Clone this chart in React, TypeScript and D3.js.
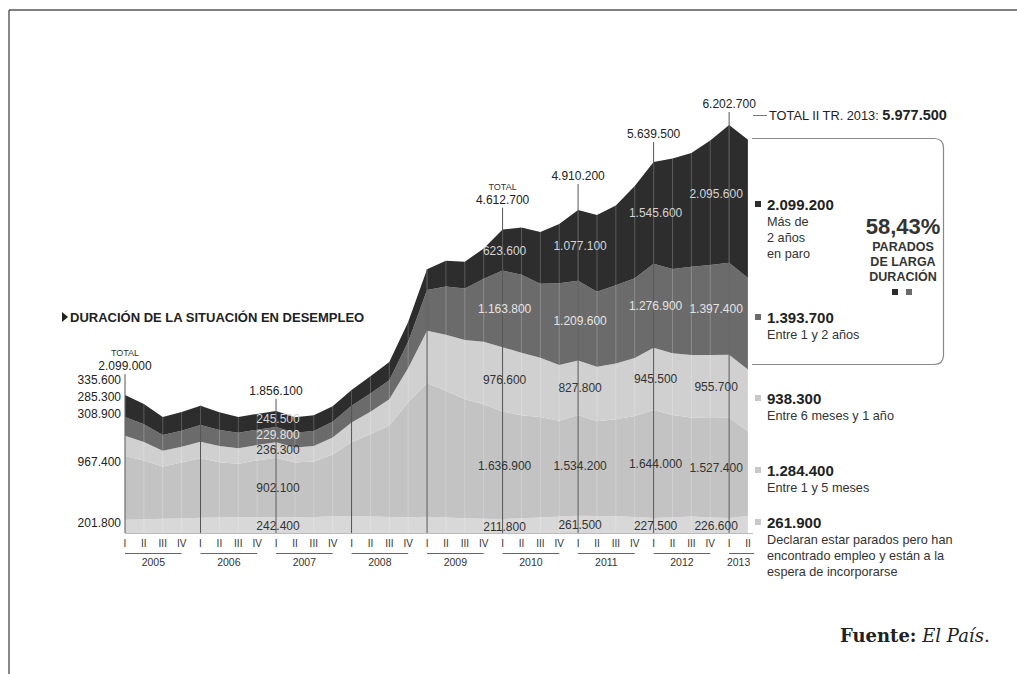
import React from "react";
import * as d3 from "d3";

// ---------- DATA (thousands of people) ----------
const years = ["2005", "2006", "2007", "2008", "2009", "2010", "2011", "2012", "2013"];
const quarterNames = ["I", "II", "III", "IV"];
const quarterLabels: string[] = [];
const quarterYears: string[] = [];
years.forEach((yr) => {
  const n = yr === "2013" ? 2 : 4;
  for (let q = 0; q < n; q++) {
    quarterLabels.push(quarterNames[q]);
    quarterYears.push(yr);
  }
});

// Declaran estar parados pero han encontrado empleo
const foundJob = [201.8, 205, 215, 220, 230, 235, 240, 240, 242.4, 240, 245, 250, 255, 250, 245, 240, 248, 235, 225, 215, 211.8, 225, 235, 250, 261.5, 260, 255, 245, 227.5, 240, 250, 235, 226.6, 261.9];
// Entre 1 y 5 meses
const oneToFive = [967.4, 897, 796, 851.3, 907.8, 842, 812, 863.6, 902.1, 830, 843.9, 942.6, 1126.2, 1253.5, 1388.8, 1747.9, 2027, 1928.5, 1807.3, 1741.5, 1636.9, 1564.5, 1527.7, 1455.6, 1534.2, 1437.7, 1473.3, 1533.6, 1644.0, 1552.1, 1506.1, 1512.4, 1527.4, 1284.4];
// Entre 6 meses y 1 año
const sixToTwelve = [308.9, 280, 240, 240, 250, 245, 235, 235, 236.3, 230, 235, 260, 300, 340, 400, 520, 800, 850, 900, 950, 976.6, 950, 900, 850, 827.8, 830, 850, 880, 945.5, 940, 950, 960, 955.7, 938.3];
// Entre 1 y 2 años
const oneToTwo = [285.3, 270, 238, 245, 253, 245, 238, 232, 229.8, 225, 228, 240, 253, 278, 290, 400, 618, 734, 786, 960, 1163.8, 1186, 1127, 1241, 1209.6, 1141, 1190, 1215, 1276.9, 1281, 1342, 1368, 1397.4, 1393.7];
// Más de 2 años
const overTwo = [335.6, 310, 276, 285, 295, 270, 240, 240, 245.5, 235, 240, 235, 240, 260, 275, 300, 318, 390, 405, 460, 623.6, 720, 785, 900, 1077.1, 1165, 1210, 1400, 1545.6, 1680, 1730, 1890, 2095.6, 2099.2];

const keys = ["foundJob", "oneToFive", "sixToTwelve", "oneToTwo", "overTwo"];
const seriesArrays: Record<string, number[]> = { foundJob, oneToFive, sixToTwelve, oneToTwo, overTwo };
const longTermShare = "58,43%";

// ---------- LAYOUT ----------
const W = 1017, H = 674;
const colors: Record<string, string> = {
  foundJob: "#d8d8d8",
  oneToFive: "#c3c3c3",
  sixToTwelve: "#d0d0d0",
  oneToTwo: "#6b6b6b",
  overTwo: "#2d2d2d",
};
const labelColors: Record<string, string> = {
  foundJob: "#333",
  oneToFive: "#333",
  sixToTwelve: "#333",
  oneToTwo: "#e4e4e4",
  overTwo: "#d4d4d4",
};

const esLocale = d3.formatLocale({ decimal: ",", thousands: ".", grouping: [3], currency: ["", ""] });
const fmt = (v: number) => esLocale.format(",.0f")(Math.round(v * 10) * 100);

const FONT = "'Liberation Sans', Arial, Helvetica, sans-serif";

export default function App() {
  const table = quarterLabels.map((q, i) => {
    const row: any = { i };
    keys.forEach((k) => (row[k] = seriesArrays[k][i]));
    return row;
  });
  const totals = table.map((r) => Math.round(keys.reduce((s, k) => s + r[k], 0) * 10) / 10);

  const x = d3.scaleLinear().domain([0, quarterLabels.length - 1]).range([125, 748]);
  const y = d3.scaleLinear().domain([0, d3.max(totals) as number]).range([533, 125]);

  const stacked = d3.stack<any>().keys(keys)(table);
  const area = d3
    .area<any>()
    .x((d) => x(d.data.i))
    .y0((d) => y(d[0]))
    .y1((d) => y(d[1]));

  const annotated = [
    { i: 0, off: 25, total: true, interior: false, dx: 0 },
    { i: 8, off: 16, total: false, interior: true, dx: 2 },
    { i: 20, off: 26, total: true, interior: true, dx: 2 },
    { i: 24, off: 30, total: false, interior: true, dx: 2 },
    { i: 28, off: 24, total: false, interior: true, dx: 2 },
    { i: 32, off: 17, total: false, interior: true, dx: -13 },
  ];
  const yearStarts = quarterLabels.map((q, i) => (q === "I" ? i : -1)).filter((i) => i >= 0);
  const annotatedIdx = annotated.map((a) => a.i);

  const leftLabelY: Record<string, number> = { overTwo: 384, oneToTwo: 401, sixToTwelve: 418, oneToFive: 466, foundJob: 527 };

  const last = quarterLabels.length - 1;
  const lastTotal = totals[last];

  const legend = [
    { key: "overTwo", y: 210, lines: ["Más de", "2 años", "en paro"] },
    { key: "oneToTwo", y: 323, lines: ["Entre 1 y 2 años"] },
    { key: "sixToTwelve", y: 404, lines: ["Entre 6 meses y 1 año"] },
    { key: "oneToFive", y: 476, lines: ["Entre 1 y 5 meses"] },
    { key: "foundJob", y: 528, lines: ["Declaran estar parados pero han", "encontrado empleo y están a la", "espera de incorporarse"] },
  ];

  return (
    <svg width={W} height={H} style={{ position: "absolute", left: 0, top: 0, background: "#fff" }} fontFamily={FONT}>
      <rect x={0} y={0} width={W} height={H} fill="#fff" />
      {/* frame */}
      <line x1={9} y1={10} x2={W} y2={10} stroke="#555" strokeWidth={1.4} />
      <line x1={9} y1={10} x2={9} y2={H} stroke="#555" strokeWidth={1.4} />

      {/* title */}
      <path d="M62,312 L68,317 L62,322 Z" fill="#222" />
      <text x={70} y={322} fontSize={13} fontWeight="bold" fill="#222">
        DURACIÓN DE LA SITUACIÓN EN DESEMPLEO
      </text>

      {/* stacked areas */}
      {stacked.map((s) => (
        <path key={s.key} d={area(s) as string} fill={colors[s.key]} />
      ))}

      {/* faint quarter lines */}
      {table.map((r) => (
        <line key={"q" + r.i} x1={x(r.i)} x2={x(r.i)} y1={y(totals[r.i])} y2={533} stroke="#fff" strokeOpacity={0.22} strokeWidth={1} />
      ))}

      {/* baseline */}
      <line x1={125} x2={753} y1={533.5} y2={533.5} stroke="#bbb" strokeWidth={1} />

      {/* year-start lines */}
      {yearStarts
        .filter((i) => !annotatedIdx.includes(i))
        .map((i) => (
          <line key={"ys" + i} x1={x(i)} x2={x(i)} y1={y(totals[i])} y2={533} stroke="#555" strokeWidth={1} />
        ))}

      {/* annotations */}
      {annotated.map((a) => {
        const top = y(totals[a.i]);
        const base = top - a.off;
        return (
          <g key={"a" + a.i}>
            <line x1={x(a.i)} x2={x(a.i)} y1={base + 4} y2={533} stroke="#555" strokeWidth={1} />
            {a.total && (
              <text x={x(a.i)} y={base - 14} fontSize={9} textAnchor="middle" fill="#333">
                TOTAL
              </text>
            )}
            <text x={x(a.i)} y={base} fontSize={12} textAnchor="middle" fill="#222">
              {fmt(totals[a.i])}
            </text>
            {a.interior &&
              stacked.map((s) => {
                const d = s[a.i];
                const mid = (y(d[0]) + y(d[1])) / 2;
                return (
                  <text key={s.key} x={x(a.i) + a.dx} y={mid + 4.5} fontSize={12} textAnchor="middle" fill={labelColors[s.key]}>
                    {fmt(d[1] - d[0])}
                  </text>
                );
              })}
          </g>
        );
      })}

      {/* left labels for first quarter */}
      {keys.map((k) => (
        <text key={"l" + k} x={121} y={leftLabelY[k]} fontSize={12} textAnchor="end" fill="#222">
          {fmt(seriesArrays[k][0])}
        </text>
      ))}

      {/* quarter labels */}
      {quarterLabels.map((q, i) => (
        <text key={"ql" + i} x={x(i)} y={547} fontSize={10} textAnchor="middle" fill="#333">
          {q}
        </text>
      ))}
      {years.map((yr) => {
        const idx = quarterYears.map((v, i) => (v === yr ? i : -1)).filter((i) => i >= 0);
        const x0 = x(idx[0]);
        const x1 = x(idx[idx.length - 1]);
        return (
          <g key={"y" + yr}>
            <line x1={x0} x2={x1 + (yr === "2013" ? 6 : 0)} y1={553.5} y2={553.5} stroke="#666" strokeWidth={1} />
            <text x={(x0 + x1) / 2} y={566} fontSize={10.5} textAnchor="middle" fill="#333">
              {yr}
            </text>
          </g>
        );
      })}

      {/* total of last quarter */}
      <line x1={753} x2={767} y1={115.5} y2={115.5} stroke="#777" strokeWidth={1} />
      <text x={769} y={120} fontSize={12.8} fill="#222">
        TOTAL II TR. 2013:{" "}
        <tspan fontWeight="bold" fontSize={14.5}>
          {fmt(lastTotal)}
        </tspan>
      </text>

      {/* long-term box */}
      <path
        d="M752,138.5 L934,138.5 Q943.5,138.5 943.5,148 L943.5,355 Q943.5,364.5 934,364.5 L752,364.5"
        fill="none"
        stroke="#888"
        strokeWidth={1.2}
      />
      <text x={903} y={234} fontSize={22} fontWeight="bold" textAnchor="middle" fill="#333">
        {longTermShare}
      </text>
      {["PARADOS", "DE LARGA", "DURACIÓN"].map((t, j) => (
        <text key={t} x={903} y={251 + j * 15} fontSize={12.5} fontWeight="bold" textAnchor="middle" fill="#333">
          {t}
        </text>
      ))}
      <rect x={892} y={289} width={6} height={6} fill={colors.overTwo} />
      <rect x={906} y={289} width={6} height={6} fill={colors.oneToTwo} />

      {/* legend */}
      {legend.map((l) => (
        <g key={"lg" + l.key}>
          <rect x={755} y={l.y - 9} width={6} height={6} fill={l.key === "sixToTwelve" || l.key === "oneToFive" || l.key === "foundJob" ? "#c8c8c8" : colors[l.key]} />
          <text x={767} y={l.y} fontSize={15} fontWeight="bold" fill="#222">
            {fmt(seriesArrays[l.key][last])}
          </text>
          {l.lines.map((t, j) => (
            <text key={j} x={767} y={l.y + 16 + j * 16} fontSize={12.7} fill="#333">
              {t}
            </text>
          ))}
        </g>
      ))}

      {/* source */}
      <text x={840} y={642} fontSize={18} fontFamily="'DejaVu Serif', 'Liberation Serif', serif" fill="#222">
        <tspan fontWeight="bold">Fuente:</tspan>
        <tspan fontStyle="italic"> El País</tspan>
        <tspan>.</tspan>
      </text>
    </svg>
  );
}
